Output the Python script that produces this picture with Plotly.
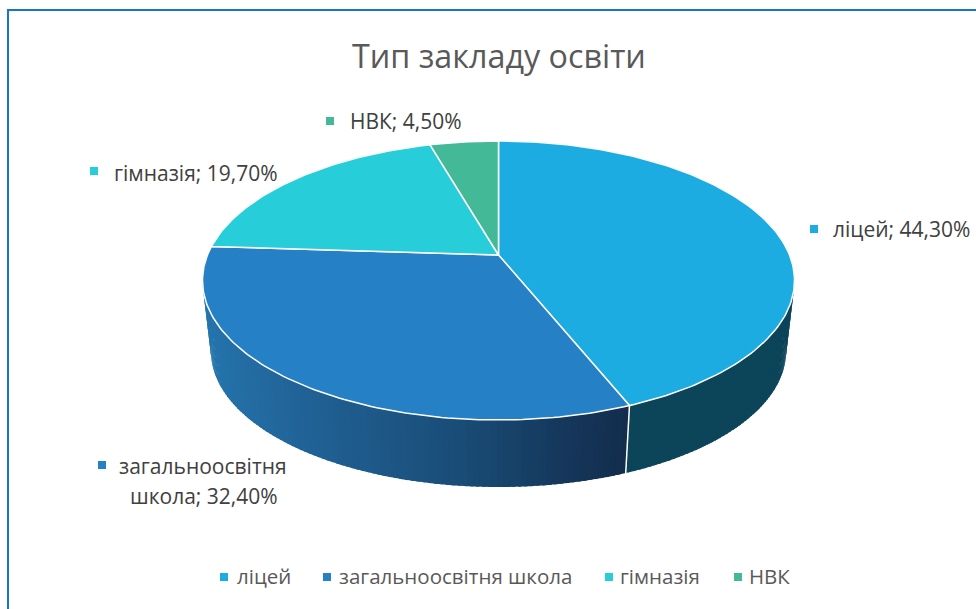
import math
import plotly.graph_objects as go

# --- data ---
categories = ["ліцей", "загальноосвітня школа", "гімназія", "НВК"]
values = [44.3, 32.4, 19.7, 4.5]
value_labels = ["44,30%", "32,40%", "19,70%", "4,50%"]
title_text = "Тип закладу освіти"

# --- style ---
top_colors = ["#1cace2", "#2580c6", "#27cdd9", "#43b998"]
wall_ramp = [(205, (36, 116, 172)), (300, (33, 98, 150)), (460, (25, 76, 118)),
             (560, (21, 56, 92)), (628, (19, 44, 76))]
wall_flat = {0: "#0c4459", 1: "#1c4e7c", 2: "#17808a", 3: "#2a7a65"}
FONT = "Open Sans"

# --- projection of the 3D disc ---
CX, CY = 498.5, 255.0
A, B, K = 291.0, 134.8, 0.183
SCALE_LOW, DROP = 288 / 296.5, 68.0


def top_pt(deg):
    t = math.radians(deg)
    u, v = math.sin(t), math.cos(t)
    den = 1 + K * v
    return CX + A * u / den, CY - B * v / den


def low_pt(deg):
    x, y = top_pt(deg)
    cy_mid = 280.0
    return CX + (x - CX) * SCALE_LOW, cy_mid + (y - cy_mid) * SCALE_LOW + DROP + 3


def ramp(x):
    if x <= wall_ramp[0][0]:
        c = wall_ramp[0][1]
    elif x >= wall_ramp[-1][0]:
        c = wall_ramp[-1][1]
    else:
        for (x0, c0), (x1, c1) in zip(wall_ramp, wall_ramp[1:]):
            if x0 <= x <= x1:
                f = (x - x0) / (x1 - x0)
                c = tuple(a + (b - a) * f for a, b in zip(c0, c1))
                break
    return "rgb(%d,%d,%d)" % tuple(round(a) for a in c)


total = sum(values)
edges = [0.0]
for val in values:
    edges.append(edges[-1] + val / total * 360.0)

fig = go.Figure()


def poly(pts, fill):
    fig.add_trace(go.Scatter(x=[q[0] for q in pts] + [pts[0][0]], y=[q[1] for q in pts] + [pts[0][1]],
                             mode="lines", fill="toself", fillcolor=fill,
                             line=dict(width=0, color=fill), hoverinfo="skip", showlegend=False))


# walls: overlapping strips swept round each slice (the gradient slice shades by x)
for i in [3, 2, 0, 1]:
    a0, a1 = edges[i], edges[i + 1]
    n_strips = max(1, int(a1 - a0))
    for j in range(n_strips):
        s0 = a0 + (a1 - a0) * j / n_strips
        s1 = min(a1, s0 + (a1 - a0) / n_strips * 1.6)
        mx = (top_pt(s0)[0] + top_pt(s1)[0]) / 2
        poly([top_pt(s0), top_pt(s1), low_pt(s1), low_pt(s0)], ramp(mx) if i == 1 else wall_flat[i])

# top faces
for i, c in enumerate(top_colors):
    a0, a1 = edges[i], edges[i + 1]
    n = max(2, int((a1 - a0)))
    pts = [top_pt(a0 + (a1 - a0) * j / n) for j in range(n + 1)]
    xs = [CX] + [q[0] for q in pts] + [CX]
    ys = [CY] + [q[1] for q in pts] + [CY]
    fig.add_trace(go.Scatter(x=xs, y=ys, mode="lines", fill="toself", fillcolor=c,
                             line=dict(color="white", width=1.5), hoverinfo="skip", showlegend=False))

# white seam on the wall at the first slice boundary
seam_top, seam_low = top_pt(edges[1]), low_pt(edges[1])

# data labels
LABEL_SIZE = 21
LEGEND_SIZE = 20.5
label_text_x = [830.5, 121, 111.5, 348]
label_mark = [(814, 229), (102, 465), (94, 171), (330, 121)]
label_y = [229, None, 173, 121]
ann = []
for i, cat in enumerate(categories):
    fig.add_trace(go.Scatter(x=[label_mark[i][0]], y=[label_mark[i][1]], mode="markers",
                             marker=dict(symbol="square", size=8, color=top_colors[i]),
                             hoverinfo="skip", showlegend=False))
    if i == 1:
        continue
    ann.append(dict(x=label_text_x[i], y=label_y[i], xref="x", yref="y", xanchor="left", yanchor="middle",
                    showarrow=False, text=f"{cat}; {value_labels[i]}",
                    font=dict(family=FONT, size=LABEL_SIZE, color="#404040")))
first, second = categories[1].split(" ")
ann.append(dict(x=202.5, y=465.5, xref="x", yref="y", xanchor="center", yanchor="middle", showarrow=False,
                text=first, font=dict(family=FONT, size=LABEL_SIZE, color="#404040")))
ann.append(dict(x=203.5, y=496, xref="x", yref="y", xanchor="center", yanchor="middle", showarrow=False,
                text=f"{second}; {value_labels[1]}", font=dict(family=FONT, size=LABEL_SIZE, color="#404040")))

# legend row
legend_mark_x = [224, 327, 609, 738]
legend_text_x = [235, 337, 618, 747]
LEG_Y = 576
for i, cat in enumerate(categories):
    fig.add_trace(go.Scatter(x=[legend_mark_x[i]], y=[577], mode="markers",
                             marker=dict(symbol="square", size=8, color=top_colors[i]),
                             hoverinfo="skip", showlegend=False))
    ann.append(dict(x=legend_text_x[i], y=LEG_Y, xref="x", yref="y", xanchor="left", yanchor="middle",
                    showarrow=False, text=cat, font=dict(family=FONT, size=LEGEND_SIZE, color="#595959")))

# title
ann.append(dict(x=498.5, y=54.5, xref="x", yref="y", xanchor="center", yanchor="middle", showarrow=False,
                text=title_text, font=dict(family=FONT, size=32.3, color="#595959")))

fig.update_layout(
    width=976, height=609, margin=dict(l=0, r=0, t=0, b=0),
    paper_bgcolor="white", plot_bgcolor="white", showlegend=False,
    xaxis=dict(range=[0, 976], visible=False, fixedrange=True),
    yaxis=dict(range=[609, 0], visible=False, fixedrange=True),
    annotations=ann,
    shapes=[
        dict(type="rect", xref="x", yref="y", x0=8, y0=10, x1=990, y1=625,
             line=dict(color="#1777c4", width=2), fillcolor="rgba(0,0,0,0)", layer="below"),
        dict(type="line", xref="x", yref="y", x0=seam_top[0], y0=seam_top[1], x1=seam_low[0], y1=seam_low[1],
             line=dict(color="white", width=1.5), layer="above"),
    ],
)
fig.write_html("out.html", config=dict(displayModeBar=False),
               post_script="document.body.style.margin='0';document.documentElement.style.overflow='hidden';")
